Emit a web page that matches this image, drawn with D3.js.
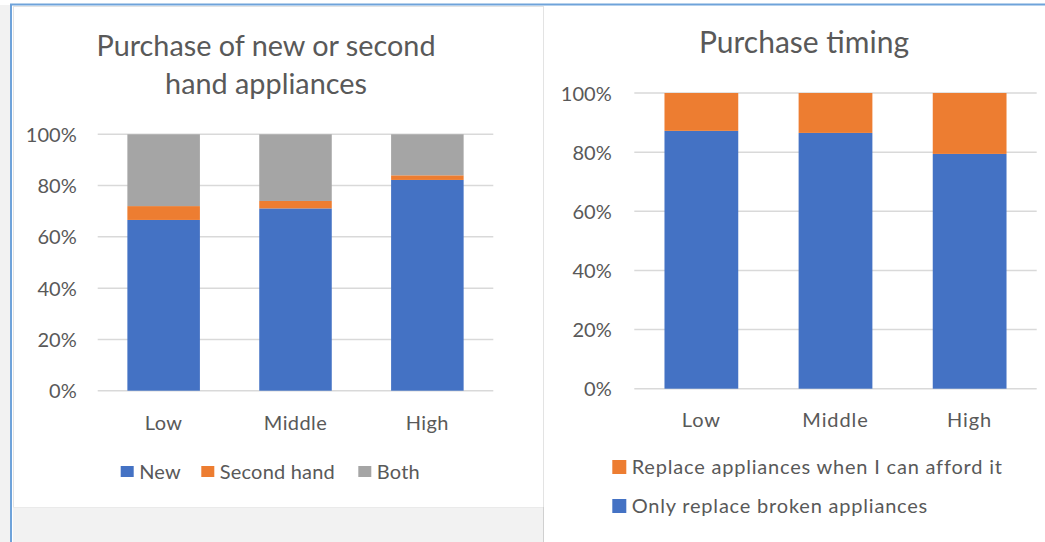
<!DOCTYPE html>
<html>
<head>
<meta charset="utf-8">
<script src="https://cdn.jsdelivr.net/npm/d3@7"></script>
<style>
  body { margin: 0; background: #fff; }
  svg { display: block; font-family: Lato, "Open Sans", sans-serif; }
  .axis text { fill: #595959; font-size: 20px; }
  .title { fill: #595959; }
  .legend text { fill: #595959; font-size: 20px; }
</style>
</head>
<body>
<svg id="chart" width="1045" height="542"></svg>
<script>
// data
var categories = ["Low", "Middle", "High"];

// left chart: purchase of new or second hand appliances
var newShare = [0.666, 0.711, 0.822];
var secondHandShare = [0.054, 0.029, 0.018];
var bothShare = [0.280, 0.260, 0.160];

// right chart: purchase timing
var onlyBroken = [0.872, 0.865, 0.794];
var whenAfford = [0.128, 0.135, 0.206];

var yTicks = [0, 0.2, 0.4, 0.6, 0.8, 1];

var blue = "#4472c4", orange = "#ed7d31", grey = "#a5a5a5";
var gridColor = "#d9d9d9";

var svg = d3.select("#chart");

// window frame (spreadsheet look)
svg.append("rect").attr("x", 0).attr("y", 5).attr("width", 10).attr("height", 537).attr("fill", "#f2f2f2");
svg.append("rect").attr("x", 13.5).attr("y", 6.5).attr("width", 530).attr("height", 501)
    .attr("fill", "#fff").attr("stroke", "#e3e3e3");
svg.append("rect").attr("x", 13).attr("y", 507.5).attr("width", 530.5).attr("height", 35).attr("fill", "#f2f2f2");
svg.append("line").attr("x1", 543.5).attr("x2", 543.5).attr("y1", 507).attr("y2", 542).attr("stroke", "#d0d0d0");
svg.append("line").attr("x1", 10).attr("x2", 1045).attr("y1", 4.5).attr("y2", 4.5)
    .attr("stroke", "#6fa3da").attr("stroke-width", 2);
svg.append("line").attr("x1", 11).attr("x2", 11).attr("y1", 4).attr("y2", 542)
    .attr("stroke", "#6fa3da").attr("stroke-width", 2);

function drawChart(opt) {
    var g = svg.append("g");

    var x = d3.scaleBand()
        .domain(categories)
        .range([opt.left, opt.right])
        .paddingInner(0.45)
        .paddingOuter(0.225);

    var y = d3.scaleLinear()
        .domain([0, 1])
        .range([opt.bottom, opt.top]);

    // gridlines
    g.append("g")
        .selectAll("line")
        .data(yTicks)
        .enter().append("line")
        .attr("x1", opt.left)
        .attr("x2", opt.right)
        .attr("y1", function(d) { return y(d); })
        .attr("y2", function(d) { return y(d); })
        .attr("stroke", gridColor)
        .attr("stroke-width", 1.5);

    // y axis labels
    var yAxis = g.append("g")
        .attr("class", "axis")
        .attr("transform", "translate(" + opt.left + ",0)")
        .call(d3.axisLeft(y).tickValues(yTicks).tickFormat(d3.format(".0%")).tickSize(0).tickPadding(opt.yPad));
    yAxis.select(".domain").remove();
    yAxis.attr("font-family", null).attr("font-size", null);
    yAxis.selectAll("text").attr("dy", "0.35em");

    // stacked bars
    var rows = categories.map(function(c, i) {
        var r = { cat: c };
        opt.series.forEach(function(s) { r[s.key] = s.values[i]; });
        return r;
    });
    var stack = d3.stack().keys(opt.series.map(function(s) { return s.key; }));
    var layers = stack(rows);

    g.selectAll(".layer")
        .data(layers)
        .enter().append("g")
        .attr("fill", function(d, i) { return opt.series[i].color; })
        .selectAll("rect")
        .data(function(d) { return d; })
        .enter().append("rect")
        .attr("x", function(d) { return x(d.data.cat); })
        .attr("y", function(d) { return y(d[1]); })
        .attr("width", x.bandwidth())
        .attr("height", function(d) { return y(d[0]) - y(d[1]); });

    // x axis labels
    var xAxis = g.append("g")
        .attr("class", "axis")
        .attr("transform", "translate(0," + opt.xLabelY + ")")
        .call(d3.axisBottom(x).tickSize(0));
    xAxis.select(".domain").remove();
    xAxis.attr("font-family", null).attr("font-size", null);
    xAxis.selectAll("text").attr("y", 0).attr("dy", null)
        .style("letter-spacing", opt.xSpacing + "px");

    // title
    g.selectAll(".title")
        .data(opt.title)
        .enter().append("text")
        .attr("class", "title")
        .attr("text-anchor", "middle")
        .attr("font-size", opt.titleSize)
        .attr("x", opt.titleX)
        .attr("y", function(d, i) { return opt.titleY + i * 38; })
        .text(function(d) { return d; });

    return g;
}

drawChart({
    left: 97.7, right: 493.3, top: 134.3, bottom: 390.7, yPad: 21,
    xLabelY: 430, xSpacing: 0.4,
    title: ["Purchase of new or second", "hand appliances"],
    titleX: 266, titleY: 56, titleSize: 28.8,
    series: [
        { key: "New", values: newShare, color: blue },
        { key: "Second hand", values: secondHandShare, color: orange },
        { key: "Both", values: bothShare, color: grey }
    ]
});

drawChart({
    left: 634.3, right: 1036.7, top: 93, bottom: 388.7, yPad: 22.6,
    xLabelY: 427, xSpacing: 0.9,
    title: ["Purchase timing"],
    titleX: 804, titleY: 53, titleSize: 30,
    series: [
        { key: "Only replace broken appliances", values: onlyBroken, color: blue },
        { key: "Replace appliances when I can afford it", values: whenAfford, color: orange }
    ]
});

// legends
var leftLegend = [
    { label: "New", color: blue, x: 120.7 },
    { label: "Second hand", color: orange, x: 201.3 },
    { label: "Both", color: grey, x: 358.3 }
];
var lg = svg.append("g").attr("class", "legend");
var li = lg.selectAll("g").data(leftLegend).enter().append("g")
    .attr("transform", function(d) { return "translate(" + d.x + ",479)"; });
li.append("rect").attr("x", 0).attr("y", -13).attr("width", 13).attr("height", 11)
    .attr("fill", function(d) { return d.color; });
li.append("text").attr("x", 18.5).attr("y", 0).style("letter-spacing", "0.2px")
    .text(function(d) { return d.label; });

var rightLegend = [
    { label: "Replace appliances when I can afford it", color: orange },
    { label: "Only replace broken appliances", color: blue }
];
var rg = svg.append("g").attr("class", "legend");
var ri = rg.selectAll("g").data(rightLegend).enter().append("g")
    .attr("transform", function(d, i) { return "translate(612.3," + (474 + i * 39) + ")"; });
ri.append("rect").attr("x", 0).attr("y", -14).attr("width", 14).attr("height", 14)
    .attr("fill", function(d) { return d.color; });
ri.append("text").attr("x", 19.4).attr("y", 0).style("letter-spacing", "0.8px")
    .text(function(d) { return d.label; });
</script>
</body>
</html>
